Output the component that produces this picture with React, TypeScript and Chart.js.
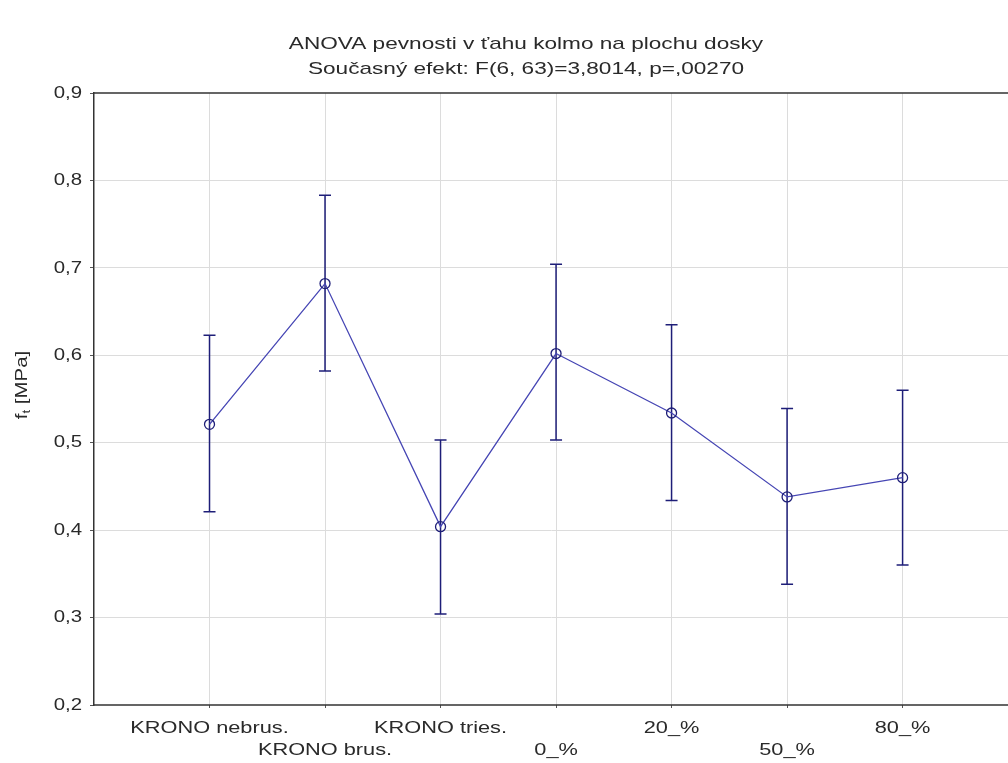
import React, { useEffect, useRef } from "react";
import { Chart, registerables } from "chart.js";

Chart.register(...registerables);

const titleLines = [
  "ANOVA pevnosti v ťahu kolmo na plochu dosky",
  "Současný efekt: F(6, 63)=3,8014, p=,00270",
];
const categories = ["KRONO nebrus.", "KRONO brus.", "KRONO tries.", "0_%", "20_%", "50_%", "80_%"];
const means = [0.521, 0.682, 0.404, 0.602, 0.534, 0.438, 0.46];
const lower = [0.421, 0.582, 0.304, 0.503, 0.434, 0.338, 0.36];
const upper = [0.623, 0.783, 0.503, 0.704, 0.635, 0.539, 0.56];
const yTicks = [0.2, 0.3, 0.4, 0.5, 0.6, 0.7, 0.8, 0.9];

const FONT = '"Liberation Sans", Arial, sans-serif';
const TEXT = "#2a2a2a";
const LINE_BLUE = "#4646b4";
const BAR_BLUE = "#1e1e78";
const GRID = "#dcdcdc";
const AXIS = "#333333";

function stretchedText(ctx: any, text: string, x: number, y: number, sx: number, align: string) {
  ctx.save();
  ctx.translate(x, y);
  ctx.scale(sx, 1);
  ctx.textAlign = align;
  ctx.fillText(text, 0, 0);
  ctx.restore();
}

const decorPlugin = {
  id: "decor",
  beforeDatasetsDraw(chart: any) {
    const { ctx, scales, chartArea } = chart;
    const x = scales.x;
    const y = scales.y;
    ctx.save();
    // horizontal grid lines across to the canvas edge
    ctx.strokeStyle = GRID;
    ctx.lineWidth = 1;
    yTicks.slice(1, -1).forEach((v) => {
      const py = Math.round(y.getPixelForValue(v) - 0.5) + 0.5;
      ctx.beginPath();
      ctx.moveTo(chartArea.left + 1, py);
      ctx.lineTo(chart.width, py);
      ctx.stroke();
    });

    // error bars
    ctx.strokeStyle = BAR_BLUE;
    ctx.lineWidth = 1.5;
    categories.forEach((_, i) => {
      const px = x.getPixelForValue(i);
      const yl = y.getPixelForValue(lower[i]);
      const yu = y.getPixelForValue(upper[i]);
      ctx.beginPath();
      ctx.moveTo(px, yl);
      ctx.lineTo(px, yu);
      ctx.moveTo(px - 6, yl);
      ctx.lineTo(px + 6, yl);
      ctx.moveTo(px - 6, yu);
      ctx.lineTo(px + 6, yu);
      ctx.stroke();
    });
    ctx.restore();
  },
  afterDraw(chart: any) {
    const { ctx, chartArea, scales } = chart;
    const x = scales.x;
    const y = scales.y;
    ctx.save();
    // top and bottom frame lines, to the canvas edge
    ctx.strokeStyle = AXIS;
    ctx.lineWidth = 1.5;
    ctx.beginPath();
    ctx.moveTo(chartArea.left, chartArea.top);
    ctx.lineTo(chart.width, chartArea.top);
    ctx.moveTo(chartArea.left, chartArea.bottom);
    ctx.lineTo(chart.width, chartArea.bottom);
    ctx.stroke();

    ctx.fillStyle = TEXT;
    ctx.textBaseline = "middle";
    // titles
    ctx.font = `17px ${FONT}`;
    stretchedText(ctx, titleLines[0], 526, 44, 1.33, "center");
    stretchedText(ctx, titleLines[1], 526, 69, 1.33, "center");

    // x tick labels (staggered)
    categories.forEach((label, i) => {
      const px = x.getPixelForValue(i);
      const py = i % 2 === 1 ? 750 : 728;
      stretchedText(ctx, label, px, py, 1.28, "center");
    });

    // y tick labels
    yTicks.forEach((v) => {
      const py = y.getPixelForValue(v);
      stretchedText(ctx, v.toFixed(1).replace(".", ","), 82, py, 1.2, "right");
    });

    // y axis title with subscript
    ctx.translate(22, 385);
    ctx.rotate(-Math.PI / 2);
    ctx.scale(1.2, 1);
    ctx.textAlign = "left";
    const big = `17px ${FONT}`;
    const small = `11px ${FONT}`;
    ctx.font = big;
    const wf = ctx.measureText("f").width;
    const wr = ctx.measureText(" [MPa]").width;
    ctx.font = small;
    const wt = ctx.measureText("t").width;
    let cx = -(wf + wt + wr) / 2;
    ctx.font = big;
    ctx.fillText("f", cx, 0);
    cx += wf;
    ctx.font = small;
    ctx.fillText("t", cx, 5);
    cx += wt;
    ctx.font = big;
    ctx.fillText(" [MPa]", cx, 0);
    ctx.restore();
  },
};

export default function App() {
  const ref = useRef<HTMLCanvasElement>(null);
  useEffect(() => {
    if (!ref.current) return;
    const chart = new Chart(ref.current, {
      type: "line",
      data: {
        datasets: [
          {
            data: means.map((m, i) => ({ x: i, y: m })),
            borderColor: LINE_BLUE,
            borderWidth: 1.3,
            pointRadius: 5,
            pointBorderWidth: 1.3,
            pointBorderColor: BAR_BLUE,
            pointBackgroundColor: "rgba(0,0,0,0)",
            tension: 0,
          },
        ],
      },
      plugins: [decorPlugin],
      options: {
        animation: false,
        responsive: false,
        layout: { padding: { top: 93, left: 0, right: 0, bottom: 0 } },
        plugins: { legend: { display: false }, tooltip: { enabled: false }, title: { display: false } },
        scales: {
          x: {
            type: "linear",
            min: -1,
            max: 6.858,
            afterBuildTicks: (scale: any) => {
              scale.ticks = categories.map((_, i) => ({ value: i }));
            },
            afterFit: (scale: any) => {
              scale.height = 58;
              scale.paddingLeft = 0;
              scale.paddingRight = 0;
            },
            grid: { color: GRID, lineWidth: 1, tickLength: 3, tickColor: "#555555" },
            border: { display: false },
            ticks: { display: false },
          },
          y: {
            min: 0.2,
            max: 0.9,
            afterBuildTicks: (scale: any) => {
              scale.ticks = yTicks.map((v) => ({ value: v }));
            },
            afterFit: (scale: any) => {
              scale.width = 94;
              scale.paddingTop = 0;
              scale.paddingBottom = 0;
            },
            grid: { drawOnChartArea: false, lineWidth: 1, tickLength: 4, tickColor: "#555555" },
            border: { color: AXIS, width: 1.5 },
            ticks: { display: false },
          },
        },
      },
    });
    return () => chart.destroy();
  }, []);
  return (
    <div style={{ position: "absolute", left: 0, top: 0, width: 1008, height: 763, background: "#ffffff", overflow: "hidden" }}>
      <canvas ref={ref} width={1008} height={763} style={{ display: "block" }} />
    </div>
  );
}
